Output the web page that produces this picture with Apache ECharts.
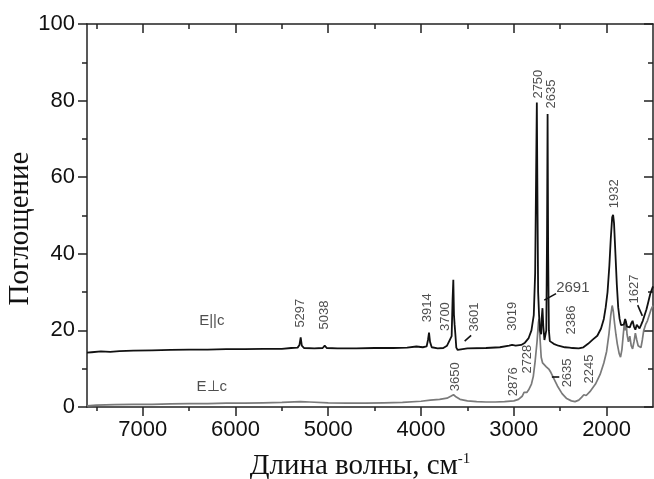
<!DOCTYPE html>
<html>
<head>
<meta charset="utf-8">
<script src="https://cdn.jsdelivr.net/npm/echarts@6/dist/echarts.min.js"></script>
<style>
  html, body { margin: 0; padding: 0; background: #fff; }
  #chart { width: 654px; height: 479px; }
</style>
</head>
<body>
<div id="chart"></div>
<script>
// E||c spectrum: [wavenumber, absorbance]
var ePar = [
  [7600,14.2],[7550,14.3],[7450,14.5],[7350,14.4],[7250,14.6],[7100,14.7],[6900,14.8],[6700,14.9],
  [6500,15.0],[6300,15.0],[6100,15.1],[5900,15.1],[5700,15.2],[5500,15.2],[5400,15.4],[5330,15.5],
  [5310,16.2],[5297,18.2],[5285,16.0],[5260,15.4],[5150,15.3],[5060,15.4],[5038,16.0],[5015,15.4],
  [4900,15.3],[4700,15.3],[4500,15.4],[4300,15.4],[4150,15.5],[4050,15.8],[3980,15.6],[3940,15.8],
  [3925,17.5],[3914,19.4],[3903,17.0],[3885,15.6],[3820,15.3],[3760,15.4],[3720,16.0],[3700,17.0],
  [3685,16.5],[3670,18.5],[3660,28],[3652,33.2],[3645,24],[3638,21.5],[3630,19],[3620,15.5],
  [3605,14.9],[3590,15.2],[3500,15.3],[3300,15.4],[3150,15.6],[3050,16.0],[3019,16.2],[2980,16.0],
  [2920,16.2],[2880,16.8],[2840,18],[2810,20],[2785,24],[2770,35],[2760,60],[2752,79.5],
  [2744,50],[2738,30],[2728,24],[2718,20],[2705,19],[2700,23],[2691,25.8],[2682,21],
  [2670,17.5],[2660,17.2],[2650,20],[2642,45],[2636,76.5],[2630,40],[2622,20],[2612,17.2],
  [2600,17.5],[2570,16.5],[2520,16],[2450,15.6],[2400,15.5],[2386,16.0],[2370,15.4],[2300,15.3],
  [2250,15.6],[2200,16.5],[2150,17.6],[2100,18.6],[2060,20.5],[2030,23],[2010,26],[1990,30],
  [1970,37],[1955,44],[1940,49.5],[1930,50.2],[1920,48],[1905,40],[1890,32],[1875,26],
  [1860,23],[1845,21.4],[1830,21],[1815,21.5],[1800,23],[1790,22.5],[1780,21],[1765,21.5],
  [1750,20.8],[1735,21.8],[1720,22.5],[1705,21],[1690,20.2],[1675,21.5],[1660,21],[1645,20.5],
  [1627,21.5],[1610,22.5],[1590,24],[1570,25.5],[1550,27.5],[1530,29.5],[1500,31.5]
];

// E⊥c spectrum
var ePerp = [
  [7600,0.3],[7500,0.5],[7300,0.6],[7100,0.7],[6900,0.7],[6700,0.8],[6500,0.9],[6300,0.9],
  [6100,1.0],[5900,1.0],[5700,1.1],[5500,1.2],[5300,1.4],[5200,1.3],[5000,1.1],[4800,1.0],
  [4600,1.0],[4400,1.1],[4200,1.2],[4000,1.5],[3900,1.8],[3800,2.0],[3720,2.3],[3680,2.8],
  [3650,3.2],[3620,2.6],[3580,2.0],[3500,1.6],[3400,1.4],[3300,1.3],[3200,1.3],[3100,1.4],
  [3000,1.6],[2950,2.0],[2910,2.8],[2890,3.8],[2876,4.3],[2860,3.8],[2840,4.5],[2810,6],
  [2790,8],[2770,12],[2750,17],[2735,22],[2728,23],[2718,18],[2705,13],[2690,11.5],
  [2670,11],[2650,10.5],[2635,11.0],[2620,9.8],[2600,9],[2570,7.5],[2530,5.5],[2480,3.5],
  [2430,2.2],[2380,1.6],[2340,1.4],[2300,1.8],[2270,2.5],[2245,3.2],[2220,3.0],[2180,4.0],
  [2120,6.0],[2070,8.5],[2030,11.5],[2000,14.5],[1975,19],[1955,24],[1940,26.5],[1928,25],
  [1915,22],[1900,19],[1885,16.5],[1865,14],[1850,13],[1835,15],[1820,19],[1808,22],
  [1800,20],[1790,22.5],[1780,19],[1765,17],[1750,18.5],[1735,16],[1720,15.2],[1705,17],
  [1690,19.3],[1675,17.5],[1660,16],[1645,16.5],[1630,15.5],[1615,17.5],[1600,20],[1580,21.5],
  [1560,22.5],[1540,24],[1520,25.5],[1500,26.5]
];

// peak labels, vertical text: [wavenumber, level, text]
var peakLabels = [
  [5297,24.5,'5297'],[5040,24,'5038'],[3928,25.9,'3914'],[3738,23.6,'3700'],[3426,23.5,'3601'],
  [3020,23.7,'3019'],[2737,84.3,'2750'],[2600,81.7,'2635'],[2379,22.7,'2386'],[1920,55.7,'1932'],
  [1697,30.8,'1627'],[3630,7.9,'3650'],[3000,6.6,'2876'],[2852,12.5,'2728'],[2422,8.9,'2635'],
  [2189,9.9,'2245']
];
// horizontal text labels
var flatLabels = [[2364,31,'2691'],[6255,22.5,'E||c'],[6255,5.3,'E\u22A5c']];
// leader lines [x1,y1,x2,y2]
var leaders = [
  [3530,17.2,3460,18.7],[2672,27.9,2545,29.6],[1665,26.6,1615,23.8],[2590,7.9,2510,7.9]
];

var majorX = [2000,3000,4000,5000,6000,7000];
var minorX = [2500,3500,4500,5500,6500,7500];

var chart = echarts.init(document.getElementById('chart'));

function xAx(pos, ticks, len, inside, line, labels) {
  return {
    type: 'value', position: pos, min: 1500, max: 7600, inverse: true,
    axisLine: { show: line, onZero: false, lineStyle: { color: '#222', width: 1.5 } },
    axisTick: { show: true, inside: inside, length: len, customValues: ticks, lineStyle: { color: '#222', width: 1.5 } },
    axisLabel: labels ? {
      customValues: ticks, fontSize: 22, color: '#111', margin: 12, fontFamily: 'Liberation Sans',
      formatter: function (v) { return String(v); }
    } : { show: false },
    splitLine: { show: false },
    name: labels ? 'Длина волны, см{sup|-1}' : '',
    nameLocation: 'middle', nameGap: 45,
    nameTextStyle: {
      fontFamily: 'Liberation Serif', fontSize: 29, color: '#111', padding: [0, 20, 0, 0],
      rich: { sup: { fontFamily: 'Liberation Serif', fontSize: 15, verticalAlign: 'top', color: '#111', padding: [0, 0, 11, 0] } }
    }
  };
}

var option = {
  animation: false,
  backgroundColor: '#fff',
  grid: { left: 87, right: 1, top: 24, bottom: 72, outerBoundsMode: 'none', containLabel: false },
  xAxis: [
    xAx('bottom', majorX, 9, false, true, true),
    xAx('bottom', minorX, 4, false, false, false),
    xAx('top', majorX, 9, true, true, false),
    xAx('top', minorX, 5, true, false, false)
  ],
  yAxis: [
    {
      type: 'value', position: 'left', min: 0, max: 100, interval: 20,
      axisLine: { show: true, lineStyle: { color: '#222', width: 1.5 } },
      axisTick: { show: true, inside: false, length: 9, lineStyle: { color: '#222', width: 1.5 } },
      minorTick: { show: true, splitNumber: 2, length: 5, lineStyle: { color: '#222', width: 1.5 } },
      axisLabel: { fontSize: 22, color: '#111', margin: 12, fontFamily: 'Liberation Sans' },
      splitLine: { show: false },
      name: 'Поглощение', nameLocation: 'middle', nameGap: 52, nameMoveOverlap: false,
      nameTextStyle: { fontFamily: 'Liberation Serif', fontSize: 29, color: '#111', padding: [0, 26, 0, 0] }
    },
    {
      type: 'value', position: 'right', min: 0, max: 100, interval: 20,
      axisLine: { show: true, lineStyle: { color: '#222', width: 1.5 } },
      axisTick: { show: true, inside: true, length: 9, lineStyle: { color: '#222', width: 1.5 } },
      minorTick: { show: true, splitNumber: 2, length: 5, lineStyle: { color: '#222', width: 1.5 } },
      axisLabel: { show: false },
      splitLine: { show: false }
    }
  ],
  series: [
    {
      name: 'E⊥c', type: 'line', data: ePerp, showSymbol: false,
      lineStyle: { color: '#7a7a7a', width: 1.7 }
    },
    {
      name: 'E||c', type: 'line', data: ePar, showSymbol: false,
      lineStyle: { color: '#111', width: 1.8 }
    },
    {
      type: 'scatter', symbolSize: 1,
      itemStyle: { color: 'rgba(0,0,0,0)' },
      data: peakLabels.map(function (p) { return { value: [p[0], p[1]], name: p[2] }; }),
      label: {
        show: true, position: 'inside', rotate: 90, formatter: '{b}',
        fontSize: 13, color: '#222', fontFamily: 'Liberation Sans'
      },
      markLine: {
        symbol: 'none', silent: true, animation: false,
        label: { show: false },
        lineStyle: { color: '#111', width: 1.6, type: 'solid' },
        data: leaders.map(function (l) { return [{ coord: [l[0], l[1]] }, { coord: [l[2], l[3]] }]; })
      }
    },
    {
      type: 'scatter', symbolSize: 1,
      itemStyle: { color: 'rgba(0,0,0,0)' },
      data: flatLabels.map(function (p) { return { value: [p[0], p[1]], name: p[2] }; }),
      label: {
        show: true, position: 'inside', formatter: '{b}',
        fontSize: 15, color: '#222', fontFamily: 'Liberation Sans'
      }
    }
  ]
};
chart.setOption(option);
</script>
</body>
</html>
